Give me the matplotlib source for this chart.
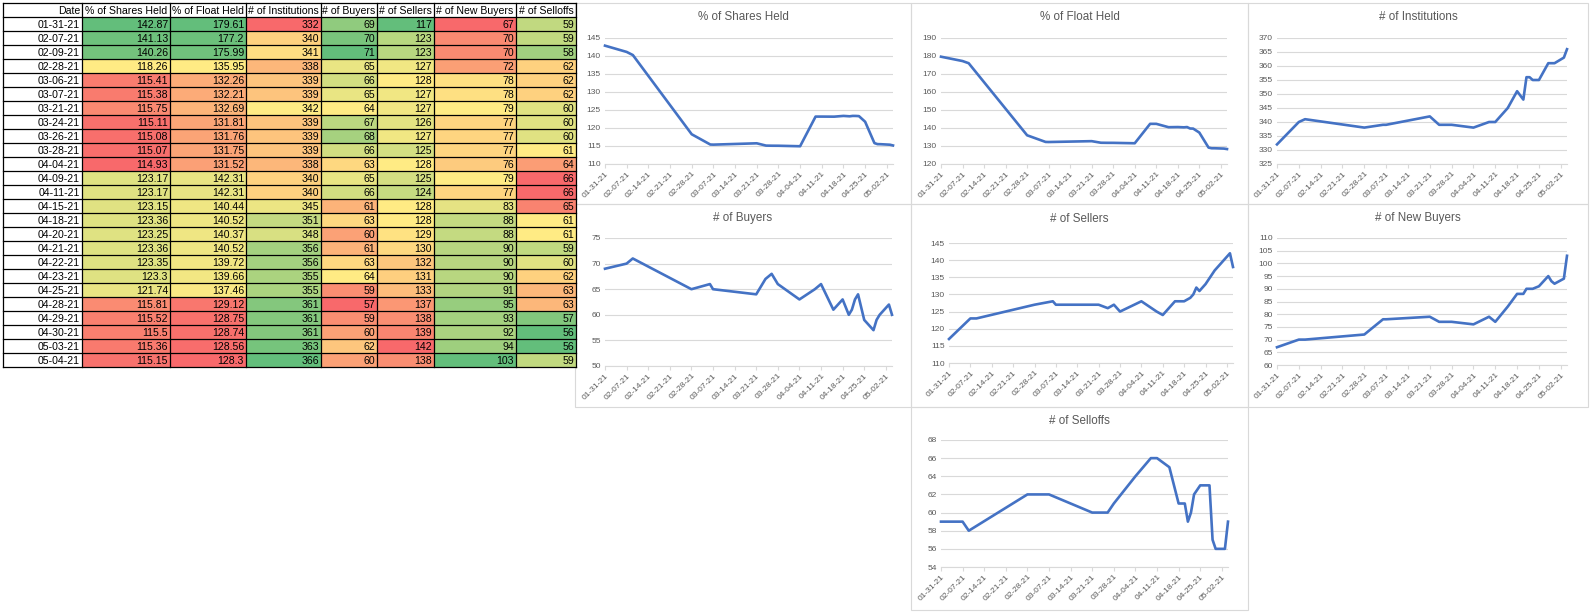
import matplotlib
matplotlib.use('Agg')
import matplotlib.pyplot as plt
import matplotlib.dates as mdates
from matplotlib.patches import Rectangle
from matplotlib.ticker import MultipleLocator
import numpy as np
from datetime import datetime, timedelta

# ---------------- data ----------------
dates = ["01-31-21", "02-07-21", "02-09-21", "02-28-21", "03-06-21", "03-07-21",
         "03-21-21", "03-24-21", "03-26-21", "03-28-21", "04-04-21", "04-09-21",
         "04-11-21", "04-15-21", "04-18-21", "04-20-21", "04-21-21", "04-22-21",
         "04-23-21", "04-25-21", "04-28-21", "04-29-21", "04-30-21", "05-03-21",
         "05-04-21"]
shares_held = [142.87, 141.13, 140.26, 118.26, 115.41, 115.38, 115.75, 115.11, 115.08,
               115.07, 114.93, 123.17, 123.17, 123.15, 123.36, 123.25, 123.36, 123.35,
               123.3, 121.74, 115.81, 115.52, 115.5, 115.36, 115.15]
float_held = [179.61, 177.2, 175.99, 135.95, 132.26, 132.21, 132.69, 131.81, 131.76,
              131.75, 131.52, 142.31, 142.31, 140.44, 140.52, 140.37, 140.52, 139.72,
              139.66, 137.46, 129.12, 128.75, 128.74, 128.56, 128.3]
institutions = [332, 340, 341, 338, 339, 339, 342, 339, 339, 339, 338, 340, 340, 345,
                351, 348, 356, 356, 355, 355, 361, 361, 361, 363, 366]
buyers = [69, 70, 71, 65, 66, 65, 64, 67, 68, 66, 63, 65, 66, 61, 63, 60, 61, 63, 64,
          59, 57, 59, 60, 62, 60]
sellers = [117, 123, 123, 127, 128, 127, 127, 126, 127, 125, 128, 125, 124, 128, 128,
           129, 130, 132, 131, 133, 137, 138, 139, 142, 138]
new_buyers = [67, 70, 70, 72, 78, 78, 79, 77, 77, 77, 76, 79, 77, 83, 88, 88, 90, 90,
              90, 91, 95, 93, 92, 94, 103]
selloffs = [59, 59, 58, 62, 62, 62, 60, 60, 60, 61, 64, 66, 66, 65, 61, 61, 59, 60, 62,
            63, 63, 57, 56, 56, 59]

headers = ["Date", "% of Shares Held", "% of Float Held", "# of Institutions",
           "# of Buyers", "# of Sellers", "# of New Buyers", "# of Selloffs"]
series = [shares_held, float_held, institutions, buyers, sellers, new_buyers, selloffs]
# True -> high values green; False -> high values red
high_is_good = [True, True, True, True, False, True, False]

W, H = 1590, 612
fig = plt.figure(figsize=(W / 100, H / 100), dpi=100)
fig.patch.set_facecolor('white')

bg = fig.add_axes([0, 0, 1, 1])
bg.set_xlim(0, W)
bg.set_ylim(H, 0)
bg.axis('off')

RED = np.array([0xF8, 0x69, 0x6B]) / 255
YEL = np.array([0xFF, 0xEB, 0x84]) / 255
GRN = np.array([0x63, 0xBE, 0x7B]) / 255


def scale_colors(vals, good_high):
    v = np.asarray(vals, float)
    lo, mid, hi = v.min(), np.percentile(v, 50), v.max()
    c_lo, c_hi = (RED, GRN) if good_high else (GRN, RED)
    out = []
    for x in v:
        if x <= mid:
            t = 0 if mid == lo else (x - lo) / (mid - lo)
            out.append(c_lo + (YEL - c_lo) * t)
        else:
            t = 0 if hi == mid else (x - mid) / (hi - mid)
            out.append(YEL + (c_hi - YEL) * t)
    return out


# ---------------- table ----------------
col_edges = [3, 82, 170, 246, 321, 377, 434, 516, 576]
top = 3.3
rh = 14.0
nrows = len(dates) + 1
tfont = dict(family='Liberation Sans', fontsize=7.6, color='black')

colors = [scale_colors(s, g) for s, g in zip(series, high_is_good)]
for r in range(len(dates)):
    y0 = top + rh * (r + 1)
    for c in range(len(series)):
        x0, x1 = col_edges[c + 1], col_edges[c + 2]
        bg.add_patch(Rectangle((x0, y0), x1 - x0, rh, facecolor=colors[c][r],
                               edgecolor='none', zorder=1))

for i in range(nrows + 1):
    bg.plot([col_edges[0], col_edges[-1]], [top + rh * i] * 2, color='black', lw=0.9, zorder=3)
for x in col_edges:
    bg.plot([x, x], [top, top + rh * nrows], color='black', lw=0.9, zorder=3)

for c, h in enumerate(headers):
    x0, x1 = col_edges[c], col_edges[c + 1]
    yc = top + rh / 2 + 0.5
    if c == 0:
        bg.text(x1 - 2, yc, h, ha='right', va='center', zorder=4, **tfont)
    else:
        bg.text((x0 + x1) / 2, yc, h, ha='center', va='center', zorder=4, **tfont)

for r, d in enumerate(dates):
    yc = top + rh * (r + 1) + rh / 2 + 0.5
    bg.text(col_edges[1] - 2, yc, d, ha='right', va='center', zorder=4, **tfont)
    for c, s in enumerate(series):
        bg.text(col_edges[c + 2] - 2, yc, '{:g}'.format(s[r]), ha='right', va='center',
                zorder=4, **tfont)

# ---------------- charts ----------------
dts = [datetime.strptime(d, "%m-%d-%y") for d in dates]
xmin, xmax = dts[0], dts[-1]
ticks = []
t = xmin
while t <= xmax:
    ticks.append(t)
    t += timedelta(days=7)

LINE = '#4472C4'
GRID = '#d9d9d9'
TXT = '#595959'

charts = [
    # title, values, box(x0,y0,x1,y1), plot(xl, xr, yt, yb), ylim, step
    ("% of Shares Held", shares_held, (575, 3, 911, 204), (605, 893, 38, 164), (110, 145), 5),
    ("% of Float Held", float_held, (911, 3, 1248, 204), (941, 1227, 38, 164), (120, 190), 10),
    ("# of Institutions", institutions, (1248, 3, 1588, 204), (1277, 1567, 38, 164), (325, 370), 5),
    ("# of Buyers", buyers, (575, 204, 911, 407), (605, 892, 238, 366), (50, 75), 5),
    ("# of Sellers", sellers, (911, 204, 1248, 407), (949, 1233, 243, 363), (110, 145), 5),
    ("# of New Buyers", new_buyers, (1248, 204, 1588, 407), (1277, 1567, 238, 365), (60, 110), 5),
    ("# of Selloffs", selloffs, (911, 407, 1248, 610), (941, 1228, 440, 567), (54, 68), 2),
]

for title, vals, box, pl, ylim, step in charts:
    bx0, by0, bx1, by1 = box
    bg.add_patch(Rectangle((bx0, by0), bx1 - bx0, by1 - by0, facecolor='none',
                           edgecolor=GRID, lw=0.8, zorder=0.5))
    bg.text((bx0 + bx1) / 2, by0 + 14.5, title, ha='center', va='center',
            family='Liberation Sans', fontsize=8.4, color=TXT, zorder=2)
    xl, xr, yt, yb = pl
    ax = fig.add_axes([xl / W, 1 - yb / H, (xr - xl) / W, (yb - yt) / H])
    ax.set_facecolor('none')
    ax.plot(dts, vals, color=LINE, lw=1.9, solid_joinstyle='round', clip_on=False)
    ax.set_xlim(xmin, xmax)
    ax.set_ylim(*ylim)
    ax.yaxis.set_major_locator(MultipleLocator(step))
    ax.set_xticks(ticks)
    ax.xaxis.set_major_formatter(mdates.DateFormatter('%m-%d-%y'))
    ax.grid(axis='y', color=GRID, lw=0.8)
    ax.set_axisbelow(True)
    for sp in ['top', 'right', 'left']:
        ax.spines[sp].set_visible(False)
    ax.spines['bottom'].set_color(GRID)
    ax.spines['bottom'].set_linewidth(0.8)
    ax.tick_params(axis='y', length=0, pad=3, labelsize=6.0, labelcolor=TXT)
    ax.tick_params(axis='x', length=3, width=0.8, color=GRID, pad=1.5,
                   labelsize=6.0, labelcolor=TXT)
    for lab in ax.get_xticklabels():
        lab.set_rotation(45)
        lab.set_ha('right')
        lab.set_rotation_mode('anchor')
        lab.set_family('Liberation Sans')
    for lab in ax.get_yticklabels():
        lab.set_family('Liberation Sans')

fig.savefig('out.png', dpi=100, facecolor='white')
